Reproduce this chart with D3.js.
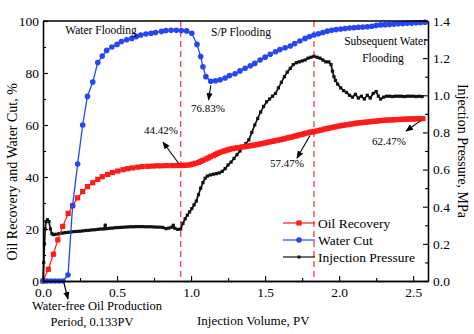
<!DOCTYPE html>
<html>
<head>
<meta charset="utf-8">
<script src="https://cdn.jsdelivr.net/npm/d3@7"></script>
<style>
  body { margin: 0; background: #fff; }
</style>
</head>
<body>
<svg id="chart"></svg>
<script>
/* data: [injection volume PV, value] */
let waterCut = [
  [0, 0], [0.027, 0], [0.054, 0], [0.081, 0], [0.108, 0], [0.135, 0], [0.169, 2.3], [0.20, 29],
  [0.234, 45], [0.268, 60], [0.30, 71], [0.336, 76.5], [0.37, 84], [0.40, 86.5], [0.43, 88.7],
  [0.465, 90], [0.50, 91], [0.53, 92.1], [0.565, 92.8], [0.60, 93.3], [0.63, 94], [0.66, 94.6],
  [0.695, 95], [0.73, 95.3], [0.76, 95.6], [0.80, 96], [0.83, 96.3], [0.865, 96.4], [0.90, 96.4],
  [0.934, 96.3], [0.97, 96.2], [1.005, 95.3], [1.04, 91], [1.065, 86.3], [1.08, 82.4], [1.10, 78.6],
  [1.133, 76.83], [1.165, 77.0], [1.196, 77.4], [1.23, 78.1], [1.26, 79], [1.297, 79.7], [1.33, 80.8],
  [1.365, 81.8], [1.40, 82.8], [1.43, 83.7], [1.466, 85], [1.50, 86.1], [1.535, 87.2], [1.57, 88.2],
  [1.60, 89], [1.635, 89.7], [1.67, 90.4], [1.70, 91.3], [1.735, 92.3], [1.77, 93.3], [1.80, 94],
  [1.83, 94.6], [1.86, 95.1], [1.89, 95.6], [1.92, 96.1], [1.95, 96.4], [1.98, 96.7], [2.01, 96.9],
  [2.04, 97.1], [2.07, 97.3], [2.10, 97.4], [2.13, 97.6], [2.16, 97.7], [2.19, 97.8], [2.22, 98.0],
  [2.25, 98.3], [2.28, 98.5], [2.31, 98.6], [2.34, 98.7], [2.37, 98.8], [2.40, 98.9], [2.43, 99.0],
  [2.46, 99.1], [2.49, 99.2], [2.52, 99.3], [2.55, 99.4], [2.58, 99.5]
];

let oilRecovery = [
  [0, 0], [0.036, 4.5], [0.07, 10.3], [0.10, 15.8], [0.133, 21], [0.17, 26], [0.20, 29], [0.234, 32],
  [0.268, 34.4], [0.30, 36.3], [0.336, 37.8], [0.37, 39.1], [0.40, 40.1], [0.437, 41], [0.47, 41.7],
  [0.505, 42.3], [0.54, 42.8], [0.57, 43.2], [0.605, 43.5], [0.64, 43.8], [0.67, 44.0], [0.707, 44.1],
  [0.74, 44.2], [0.77, 44.3], [0.80, 44.3], [0.835, 44.4], [0.87, 44.4], [0.90, 44.4], [0.93, 44.42],
  [0.95, 44.5], [0.965, 44.5], [0.985, 44.6], [1.0, 44.8], [1.015, 45.0], [1.03, 45.3], [1.05, 45.6],
  [1.065, 46], [1.08, 46.4], [1.10, 46.9], [1.115, 47.3], [1.13, 47.8], [1.15, 48.2], [1.165, 48.7],
  [1.18, 49.1], [1.196, 49.5], [1.215, 49.8], [1.23, 50.1], [1.245, 50.4], [1.26, 50.7], [1.28, 50.9],
  [1.297, 51.1], [1.315, 51.3], [1.33, 51.4], [1.35, 51.6], [1.365, 51.7], [1.38, 51.9], [1.40, 52.0],
  [1.415, 52.2], [1.43, 52.3], [1.45, 52.5], [1.466, 52.7], [1.48, 52.9], [1.50, 53.1], [1.515, 53.3],
  [1.53, 53.5], [1.55, 53.7], [1.565, 53.9], [1.58, 54.1], [1.60, 54.3], [1.615, 54.5], [1.63, 54.7],
  [1.65, 55.0], [1.665, 55.2], [1.68, 55.4], [1.70, 55.7], [1.715, 55.9], [1.73, 56.2], [1.75, 56.4],
  [1.765, 56.7], [1.78, 56.9], [1.80, 57.2], [1.815, 57.3], [1.83, 57.47], [1.85, 57.7], [1.865, 57.9],
  [1.88, 58.1], [1.90, 58.4], [1.915, 58.6], [1.93, 58.8], [1.95, 59.0], [1.965, 59.2], [1.98, 59.4],
  [2.0, 59.6], [2.015, 59.8], [2.03, 59.9], [2.05, 60.1], [2.065, 60.2], [2.08, 60.4], [2.10, 60.5],
  [2.115, 60.7], [2.13, 60.8], [2.15, 60.9], [2.165, 61.0], [2.18, 61.1], [2.20, 61.2], [2.215, 61.3],
  [2.23, 61.4], [2.25, 61.5], [2.265, 61.6], [2.28, 61.7], [2.30, 61.8], [2.315, 61.85], [2.33, 61.9],
  [2.35, 61.95], [2.365, 62.0], [2.38, 62.05], [2.40, 62.1], [2.415, 62.15], [2.43, 62.2], [2.45, 62.25],
  [2.465, 62.3], [2.48, 62.32], [2.50, 62.35], [2.515, 62.38], [2.53, 62.4], [2.55, 62.44], [2.565, 62.47]
];

let injPressure = [
  [0, 0], [0.005, 0.1], [0.01, 0.2], [0.015, 0.28], [0.02, 0.32], [0.03, 0.33], [0.04, 0.32],
  [0.05, 0.28], [0.06, 0.255], [0.07, 0.25], [0.09, 0.252], [0.11, 0.255], [0.13, 0.258], [0.15, 0.26],
  [0.17, 0.262], [0.19, 0.264], [0.21, 0.266], [0.23, 0.267], [0.25, 0.268], [0.27, 0.27], [0.29, 0.272],
  [0.31, 0.273], [0.33, 0.275], [0.35, 0.276], [0.37, 0.278], [0.39, 0.28], [0.41, 0.28], [0.42, 0.3],
  [0.43, 0.282], [0.45, 0.284], [0.47, 0.285], [0.49, 0.287], [0.51, 0.288], [0.53, 0.289], [0.55, 0.29],
  [0.57, 0.291], [0.59, 0.292], [0.61, 0.292], [0.63, 0.293], [0.65, 0.293], [0.67, 0.293], [0.69, 0.292],
  [0.71, 0.292], [0.73, 0.292], [0.75, 0.291], [0.77, 0.29], [0.79, 0.29], [0.81, 0.288], [0.83, 0.282],
  [0.85, 0.285], [0.87, 0.29], [0.88, 0.3], [0.89, 0.284], [0.91, 0.278], [0.93, 0.28], [0.945, 0.31],
  [0.96, 0.335], [0.975, 0.355], [0.99, 0.372], [1.005, 0.39], [1.02, 0.41], [1.035, 0.43], [1.05, 0.465],
  [1.065, 0.5], [1.08, 0.53], [1.095, 0.553], [1.11, 0.565], [1.13, 0.571], [1.15, 0.575], [1.17, 0.578],
  [1.19, 0.582], [1.21, 0.59], [1.23, 0.605], [1.25, 0.625], [1.27, 0.64], [1.29, 0.66], [1.31, 0.68],
  [1.33, 0.70], [1.35, 0.72], [1.37, 0.74], [1.39, 0.76], [1.41, 0.80], [1.43, 0.84], [1.45, 0.875],
  [1.47, 0.91], [1.49, 0.94], [1.51, 0.965], [1.53, 0.98], [1.55, 0.995], [1.57, 1.01], [1.59, 1.04],
  [1.61, 1.07], [1.63, 1.10], [1.65, 1.125], [1.67, 1.145], [1.69, 1.165], [1.71, 1.175], [1.73, 1.18],
  [1.75, 1.185], [1.77, 1.19], [1.79, 1.2], [1.81, 1.205], [1.83, 1.21], [1.85, 1.205], [1.87, 1.2],
  [1.89, 1.19], [1.91, 1.18], [1.93, 1.18], [1.945, 1.165], [1.955, 1.13], [1.965, 1.1], [1.975, 1.08],
  [1.99, 1.06], [2.01, 1.04], [2.03, 1.025], [2.05, 1.015], [2.07, 1.0], [2.09, 0.99], [2.11, 1.005],
  [2.13, 0.985], [2.15, 0.995], [2.17, 0.98], [2.19, 1.0], [2.21, 0.985], [2.23, 1.01], [2.25, 1.02],
  [2.265, 0.995], [2.28, 0.98], [2.30, 0.99], [2.32, 0.995], [2.34, 0.995], [2.36, 0.993], [2.38, 0.995],
  [2.40, 0.995], [2.42, 0.995], [2.44, 0.993], [2.46, 0.995], [2.48, 0.995], [2.50, 0.995], [2.52, 0.993],
  [2.54, 0.995], [2.56, 0.993]
];

let stageBounds = [0.93, 1.83];   // stage boundaries, PV
let xTicks = [0, 0.5, 1.0, 1.5, 2.0, 2.5];
let leftTicks = [0, 20, 40, 60, 80, 100];
let rightTicks = [0, 0.2, 0.4, 0.6, 0.8, 1.0, 1.2, 1.4];
let seriesNames = ["Oil Recovery", "Water Cut", "Injection Pressure"];

/* size */
let width = 474, height = 334;
let margin = { left: 43, right: 46, top: 21, bottom: 53 };
let serif = "Liberation Serif";

let svg = d3.select("#chart").attr("width", width).attr("height", height);

let x = d3.scaleLinear().domain([0, 2.6]).range([margin.left, width - margin.right]);
let yL = d3.scaleLinear().domain([0, 100]).range([height - margin.bottom, margin.top]);
let yR = d3.scaleLinear().domain([0, 1.4]).range([height - margin.bottom, margin.top]);

let red = "#ff1a1a", blue = "#2546f0", dashRed = "#e8404a";

/* stage boundaries */
svg.selectAll(".stage").data(stageBounds).enter().append("line")
  .attr("x1", d => x(d)).attr("x2", d => x(d))
  .attr("y1", yL(100)).attr("y2", yL(0))
  .attr("stroke", dashRed).attr("stroke-width", 1.3)
  .attr("stroke-dasharray", "6,4");

/* series lines */
let lineL = d3.line().x(d => x(d[0])).y(d => yL(d[1]));
let lineR = d3.line().x(d => x(d[0])).y(d => yR(d[1]));

svg.append("path").attr("d", lineR(injPressure)).attr("fill", "none")
  .attr("stroke", "#111").attr("stroke-width", 1.7);
svg.selectAll(".pm").data(injPressure).enter().append("rect")
  .attr("x", d => x(d[0]) - 1.6).attr("y", d => yR(d[1]) - 1.6)
  .attr("width", 3.2).attr("height", 3.2).attr("fill", "#111");

svg.append("path").attr("d", lineL(oilRecovery)).attr("fill", "none")
  .attr("stroke", red).attr("stroke-width", 1.2);
svg.selectAll(".om").data(oilRecovery).enter().append("rect")
  .attr("x", d => x(d[0]) - 2.6).attr("y", d => yL(d[1]) - 2.6)
  .attr("width", 5.2).attr("height", 5.2).attr("fill", red);

svg.append("path").attr("d", lineL(waterCut)).attr("fill", "none")
  .attr("stroke", blue).attr("stroke-width", 1.3);
svg.selectAll(".wm").data(waterCut).enter().append("circle")
  .attr("cx", d => x(d[0])).attr("cy", d => yL(d[1]))
  .attr("r", 2.8).attr("fill", blue);

/* axes with inward ticks */
let axisFont = 13.5;
function styleAxis(g) {
  g.attr("font-family", serif).attr("font-size", axisFont);
  g.select(".domain").attr("stroke", "#000").attr("stroke-width", 1.3);
  g.selectAll(".tick line").attr("stroke", "#000").attr("stroke-width", 1.1);
  g.selectAll("text").attr("fill", "#000");
}
let base = height - margin.bottom;

svg.append("g").attr("transform", "translate(0," + base + ")")
  .call(d3.axisBottom(x).tickValues(d3.range(0.25, 2.6, 0.5)).tickSize(-3).tickFormat("").tickSizeOuter(0))
  .call(styleAxis);
svg.append("g").attr("transform", "translate(0," + base + ")")
  .call(d3.axisBottom(x).tickValues(xTicks).tickSizeInner(-5).tickSizeOuter(0).tickPadding(6).tickFormat(d3.format(".1f")))
  .call(styleAxis);

svg.append("g").attr("transform", "translate(" + margin.left + ",0)")
  .call(d3.axisLeft(yL).tickValues(d3.range(10, 100, 20)).tickSize(-3).tickFormat("").tickSizeOuter(0))
  .call(styleAxis);
svg.append("g").attr("transform", "translate(" + margin.left + ",0)")
  .call(d3.axisLeft(yL).tickValues(leftTicks).tickSizeInner(-5).tickSizeOuter(0).tickPadding(4).tickFormat(d3.format("d")))
  .call(styleAxis);

let rx = width - margin.right;
svg.append("g").attr("transform", "translate(" + rx + ",0)")
  .call(d3.axisRight(yR).tickValues(d3.range(0.1, 1.4, 0.2)).tickSize(-3).tickFormat("").tickSizeOuter(0))
  .call(styleAxis);
svg.append("g").attr("transform", "translate(" + rx + ",0)")
  .call(d3.axisRight(yR).tickValues(rightTicks).tickSizeInner(-5).tickSizeOuter(0).tickPadding(5).tickFormat(d3.format(".1f")))
  .call(styleAxis);

/* top frame */
svg.append("line").attr("x1", margin.left).attr("x2", rx)
  .attr("y1", margin.top).attr("y2", margin.top)
  .attr("stroke", "#000").attr("stroke-width", 1.3);

/* axis titles */
svg.append("text").attr("x", x(1.42)).attr("y", 325).attr("text-anchor", "middle")
  .attr("font-size", 13).text("Injection Volume, PV");
svg.append("text").attr("transform", "translate(17," + yL(42) + ") rotate(-90)")
  .attr("text-anchor", "middle").attr("font-size", 14).text("Oil Recovery and Water Cut, %");
svg.append("text").attr("transform", "translate(458," + yR(0.7) + ") rotate(90)")
  .attr("text-anchor", "middle").attr("font-size", 14).text("Injection Pressure, MPa");

/* stage labels */
let note = svg.append("g").attr("font-size", 11.5).attr("fill", "#000");
note.append("text").attr("x", 101).attr("y", 34).attr("text-anchor", "middle").text("Water Flooding");
note.append("text").attr("x", 241).attr("y", 36).attr("text-anchor", "middle").text("S/P Flooding");
note.append("text").attr("x", 427).attr("y", 45).attr("text-anchor", "end").text("Subsequent Water");
note.append("text").attr("x", 383).attr("y", 62).attr("text-anchor", "middle").text("Flooding");

/* arrows */
let defs = svg.append("defs");
defs.append("marker").attr("id", "arr").attr("viewBox", "0 0 10 10")
  .attr("refX", 9).attr("refY", 5).attr("markerWidth", 7).attr("markerHeight", 7)
  .attr("orient", "auto")
  .append("path").attr("d", "M0,1 L10,5 L0,9 Z").attr("fill", "#000");

function arrow(x1, y1, x2, y2) {
  svg.append("line").attr("x1", x1).attr("y1", y1).attr("x2", x2).attr("y2", y2)
    .attr("stroke", "#000").attr("stroke-width", 1.1).attr("marker-end", "url(#arr)");
}
let pct = svg.append("g").attr("font-size", 11).attr("fill", "#000").attr("text-anchor", "middle");

arrow(x(0.93) - 2, yL(44.42) - 2, 163, 142);
pct.append("text").attr("x", 161).attr("y", 134).text("44.42%");

arrow(x(1.133), yL(76.83) + 4, x(1.118), 100);
pct.append("text").attr("x", 208).attr("y", 112).text("76.83%");

arrow(x(1.83) - 4, yL(57.47) + 4, 297, 158);
pct.append("text").attr("x", 287).attr("y", 167).text("57.47%");

arrow(x(2.565) - 2, yL(62.47) + 2, 406, 131);
pct.append("text").attr("x", 389).attr("y", 145).text("62.47%");

arrow(64, 283, 68, 299);
svg.append("text").attr("x", 97).attr("y", 310).attr("text-anchor", "middle")
  .attr("font-size", 12.5).text("Water-free Oil Production");
svg.append("text").attr("x", 92).attr("y", 326).attr("text-anchor", "middle")
  .attr("font-size", 12.5).text("Period, 0.133PV");

/* legend */
let legendY = [223, 240, 257];
let legendColor = [red, blue, "#111"];
let lg = svg.append("g");
seriesNames.forEach(function (name, i) {
  let yy = legendY[i];
  lg.append("line").attr("x1", 283).attr("x2", 315).attr("y1", yy).attr("y2", yy)
    .attr("stroke", legendColor[i]).attr("stroke-width", 1.2);
  if (i === 0) {
    lg.append("rect").attr("x", 296.4).attr("y", yy - 2.6).attr("width", 5.2).attr("height", 5.2).attr("fill", red);
  } else if (i === 1) {
    lg.append("circle").attr("cx", 299).attr("cy", yy).attr("r", 2.8).attr("fill", blue);
  } else {
    lg.append("rect").attr("x", 297.5).attr("y", yy - 1.5).attr("width", 3).attr("height", 3).attr("fill", "#111");
  }
  lg.append("text").attr("x", 318).attr("y", yy + 4.5).attr("font-size", 13.5).text(name);
});

/* serif everywhere */
svg.selectAll("text").attr("font-family", serif);
</script>
</body>
</html>
